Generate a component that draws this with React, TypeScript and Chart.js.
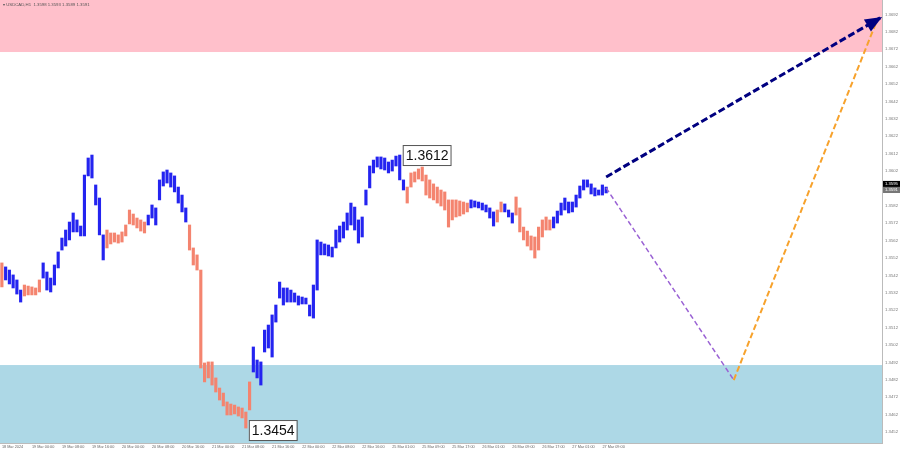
import React, { useEffect, useRef } from 'react';
import { Chart, registerables } from 'chart.js';
Chart.register(...registerables);

const chartTitle = '\u25BE USDCAD,H1  1.3598 1.3593 1.3589 1.3591';

const tickLabels = [
  '18 Mar 2024', '19 Mar 00:00', '19 Mar 08:00', '19 Mar 16:00', '20 Mar 00:00', '20 Mar 08:00',
  '20 Mar 16:00', '21 Mar 00:00', '21 Mar 08:00', '21 Mar 16:00', '22 Mar 00:00', '22 Mar 08:00',
  '22 Mar 16:00', '25 Mar 01:00', '25 Mar 09:00', '25 Mar 17:00', '26 Mar 01:00', '26 Mar 09:00',
  '26 Mar 17:00', '27 Mar 01:00', '27 Mar 09:00',
];
const barsPerTick = 8;
const totalSlots = 235;

const barHigh = [
  1.35492, 1.35469, 1.35451, 1.35423, 1.35394, 1.35336, 1.35365, 1.35359, 1.35354, 1.35348,
  1.35394, 1.35492, 1.35440, 1.35405, 1.35480, 1.35555, 1.35635, 1.35681, 1.35727, 1.35779,
  1.35739, 1.35704, 1.35997, 1.36095, 1.36112, 1.35940, 1.35865, 1.35653, 1.35681, 1.35664,
  1.35664, 1.35653, 1.35670, 1.35710, 1.35796, 1.35773, 1.35750, 1.35739, 1.35727, 1.35767,
  1.35825, 1.35808, 1.35969, 1.36015, 1.36026, 1.36009, 1.35992, 1.35928, 1.35882, 1.35808,
  1.35710, 1.35578, 1.35538, 1.35451, 1.34917, 1.34923, 1.34923, 1.34831, 1.34773, 1.34744,
  1.34693, 1.34681, 1.34675, 1.34664, 1.34658, 1.34635, 1.34808, 1.35009, 1.34934, 1.34923,
  1.35106, 1.35135, 1.35193, 1.35250, 1.35382, 1.35348, 1.35348, 1.35336, 1.35319, 1.35302,
  1.35296, 1.35290, 1.35250, 1.35365, 1.35624, 1.35612, 1.35601, 1.35595, 1.35583, 1.35681,
  1.35704, 1.35727, 1.35779, 1.35836, 1.35813, 1.35739, 1.35756, 1.35911, 1.36049, 1.36083,
  1.36101, 1.36101, 1.36095, 1.36072, 1.36083, 1.36106, 1.36112, 1.35969, 1.35928, 1.36009,
  1.36015, 1.36032, 1.36043, 1.35997, 1.35969, 1.35946, 1.35928, 1.35911, 1.35900, 1.35854,
  1.35854, 1.35854, 1.35848, 1.35842, 1.35836, 1.35854, 1.35848, 1.35842, 1.35836, 1.35825,
  1.35808, 1.35785, 1.35796, 1.35842, 1.35831, 1.35796, 1.35779, 1.35871, 1.35808, 1.35698,
  1.35675, 1.35647, 1.35641, 1.35698, 1.35739, 1.35756, 1.35739, 1.35756, 1.35790, 1.35836,
  1.35865, 1.35842, 1.35842, 1.35882, 1.35934, 1.35969, 1.35969, 1.35946, 1.35923, 1.35911,
  1.35940, 1.35928,
];

const barLow = [
  1.35354, 1.35394, 1.35371, 1.35348, 1.35313, 1.35267, 1.35302, 1.35308, 1.35308, 1.35308,
  1.35325, 1.35405, 1.35336, 1.35325, 1.35365, 1.35463, 1.35566, 1.35589, 1.35624, 1.35670,
  1.35670, 1.35647, 1.35647, 1.35992, 1.35980, 1.35825, 1.35653, 1.35509, 1.35578, 1.35601,
  1.35612, 1.35606, 1.35612, 1.35647, 1.35716, 1.35710, 1.35693, 1.35675, 1.35664, 1.35710,
  1.35750, 1.35710, 1.35854, 1.35934, 1.35951, 1.35928, 1.35900, 1.35836, 1.35785, 1.35727,
  1.35566, 1.35480, 1.35451, 1.34888, 1.34808, 1.34831, 1.34790, 1.34750, 1.34704, 1.34670,
  1.34618, 1.34618, 1.34624, 1.34612, 1.34601, 1.34543, 1.34647, 1.34865, 1.34831, 1.34790,
  1.34980, 1.35003, 1.34951, 1.35152, 1.35290, 1.35250, 1.35267, 1.35267, 1.35267, 1.35250,
  1.35256, 1.35256, 1.35187, 1.35175, 1.35336, 1.35538, 1.35538, 1.35532, 1.35526, 1.35578,
  1.35612, 1.35635, 1.35681, 1.35710, 1.35681, 1.35606, 1.35641, 1.35825, 1.35923, 1.36009,
  1.36043, 1.36032, 1.36026, 1.36009, 1.36020, 1.36049, 1.35969, 1.35911, 1.35836, 1.35928,
  1.35957, 1.35974, 1.35963, 1.35882, 1.35865, 1.35854, 1.35836, 1.35819, 1.35796, 1.35698,
  1.35739, 1.35756, 1.35762, 1.35773, 1.35785, 1.35808, 1.35813, 1.35808, 1.35796, 1.35785,
  1.35750, 1.35704, 1.35727, 1.35785, 1.35785, 1.35756, 1.35721, 1.35767, 1.35670, 1.35624,
  1.35589, 1.35566, 1.35520, 1.35566, 1.35641, 1.35681, 1.35681, 1.35693, 1.35721, 1.35767,
  1.35796, 1.35779, 1.35785, 1.35813, 1.35865, 1.35911, 1.35928, 1.35888, 1.35877, 1.35882,
  1.35882, 1.35894,
];

// bar index ranges drawn in the "down wave" colour
const downSegments = [[0, 0], [6, 10], [28, 38], [50, 66], [108, 124], [132, 133], [137, 146]];

const priceTicks = [
  1.3452, 1.3462, 1.3472, 1.3482, 1.3492, 1.3502, 1.3512, 1.3522, 1.3532, 1.3542, 1.3552, 1.3562,
  1.3572, 1.3582, 1.3592, 1.3602, 1.3612, 1.3622, 1.3632, 1.3642, 1.3652, 1.3662, 1.3672, 1.3682, 1.3692,
];
const yMin = 1.34457;
const yMax = 1.37003;

const resistanceZone = [1.36704, 1.37003];
const supportZone = [1.34457, 1.34905];

const mainWaveX = [161, 234];
const mainWaveY = [1.35986, 1.369];
const altDownX = [161, 195];
const altDownY = [1.35923, 1.34819];
const altUpX = [195, 233];
const altUpY = [1.34819, 1.36877];

const extremeIdx = [106, 65];
const extremePrice = [1.36112, 1.34543];
const extremeText = ['1.3612', '1.3454'];

const bidPrice = 1.35946;
const bidText = '1.3595';
const lastPrice = 1.35911;
const lastText = '1.3591';

const UP_COLOR = '#2424f0';
const DOWN_COLOR = '#f4846f';

function lineData(xs: number[], ys: number[]) {
  const arr: (number | null)[] = new Array(totalSlots).fill(null);
  xs.forEach((x, k) => { arr[x] = ys[k]; });
  return arr;
}

export default function App() {
  const ref = useRef<HTMLCanvasElement | null>(null);

  useEffect(() => {
    document.body.style.margin = '0';
    const canvas = ref.current;
    if (!canvas) return;

    const labels: string[] = new Array(totalSlots).fill('');
    tickLabels.forEach((t, k) => { labels[k * barsPerTick] = t; });

    const colors = barHigh.map((_, i) =>
      downSegments.some(([a, b]) => i >= a && i <= b) ? DOWN_COLOR : UP_COLOR);

    const zonesPlugin = {
      id: 'zones',
      beforeDatasetsDraw(chart: any) {
        const { ctx, chartArea, scales } = chart;
        const y = scales.y;
        ctx.save();
        ctx.fillStyle = '#ffc0cb';
        const r1 = y.getPixelForValue(resistanceZone[1]);
        const r0 = y.getPixelForValue(resistanceZone[0]);
        ctx.fillRect(chartArea.left, r1, chartArea.right - chartArea.left, r0 - r1);
        ctx.fillStyle = '#add8e6';
        const s1 = y.getPixelForValue(supportZone[1]);
        const s0 = y.getPixelForValue(supportZone[0]);
        ctx.fillRect(chartArea.left, s1, chartArea.right - chartArea.left, s0 - s1);
        ctx.restore();
      },
      afterDraw(chart: any) {
        const { ctx, chartArea, scales } = chart;
        const x = scales.x;
        const y = scales.y;
        ctx.save();
        // title
        ctx.font = '4.3px "Liberation Sans", Arial, sans-serif';
        ctx.fillStyle = '#555';
        ctx.textBaseline = 'middle';
        ctx.textAlign = 'left';
        ctx.fillText(chartTitle, 3, 5);

        // arrowhead on main wave
        const x0 = x.getPixelForValue(mainWaveX[0]);
        const y0 = y.getPixelForValue(mainWaveY[0]);
        const x1 = x.getPixelForValue(mainWaveX[1]) + 2;
        const y1 = y.getPixelForValue(mainWaveY[1]) - 1;
        const ang = Math.atan2(y1 - y0, x1 - x0);
        const L = 17, W = 7;
        ctx.fillStyle = '#000080';
        ctx.beginPath();
        ctx.moveTo(x1, y1);
        ctx.lineTo(x1 - L * Math.cos(ang) + W * Math.sin(ang), y1 - L * Math.sin(ang) - W * Math.cos(ang));
        ctx.lineTo(x1 - L * Math.cos(ang) - W * Math.sin(ang), y1 - L * Math.sin(ang) + W * Math.cos(ang));
        ctx.closePath();
        ctx.fill();

        // extreme labels
        ctx.font = '14px "Liberation Sans", Arial, sans-serif';
        extremeIdx.forEach((idx, k) => {
          const px = x.getPixelForValue(idx) + 3;
          const py = y.getPixelForValue(extremePrice[k]) + (k === 1 ? 2 : 0);
          const w = ctx.measureText(extremeText[k]).width + 5;
          const h = 20;
          ctx.fillStyle = '#ffffff';
          ctx.fillRect(px, py - h / 2, w, h);
          ctx.strokeStyle = '#555';
          ctx.lineWidth = 1;
          ctx.strokeRect(px + 0.5, py - h / 2 + 0.5, w, h);
          ctx.fillStyle = '#111';
          ctx.textAlign = 'left';
          ctx.textBaseline = 'middle';
          ctx.fillText(extremeText[k], px + 3, py + 1);
        });

        // price boxes on axis
        const ax = chartArea.right + 1;
        ctx.font = '4.2px "Liberation Sans", Arial, sans-serif';
        const by = y.getPixelForValue(bidPrice);
        ctx.fillStyle = '#000';
        ctx.fillRect(ax, by - 3, 18, 6);
        ctx.fillStyle = '#fff';
        ctx.fillText(bidText, ax + 2, by);
        const ly = y.getPixelForValue(lastPrice);
        ctx.fillStyle = '#777';
        ctx.fillRect(ax, ly - 3, 18, 6);
        ctx.fillStyle = '#fff';
        ctx.fillText(lastText, ax + 2, ly);
        ctx.restore();
      },
    };

    const chart = new Chart(canvas, {
      type: 'bar',
      data: {
        labels,
        datasets: [
          {
            type: 'bar',
            data: barLow.map((l, i) => [l, barHigh[i]]) as any,
            backgroundColor: colors,
            borderWidth: 0,
            barThickness: 2.5,
            order: 5,
          } as any,
          {
            type: 'line',
            data: lineData(altDownX, altDownY),
            borderColor: '#9a62d4',
            borderWidth: 1.5,
            borderDash: [5, 3],
            pointRadius: 0,
            spanGaps: true,
            order: 3,
          } as any,
          {
            type: 'line',
            data: lineData(altUpX, altUpY),
            borderColor: '#f7a22c',
            borderWidth: 2,
            borderDash: [6, 3],
            pointRadius: 0,
            spanGaps: true,
            order: 2,
          } as any,
          {
            type: 'line',
            data: lineData(mainWaveX, mainWaveY),
            borderColor: '#000080',
            borderWidth: 3,
            borderDash: [7, 3],
            pointRadius: 0,
            spanGaps: true,
            order: 1,
          } as any,
        ],
      },
      options: {
        animation: false,
        responsive: true,
        maintainAspectRatio: false,
        layout: { padding: 0 },
        plugins: { legend: { display: false }, tooltip: { enabled: false } },
        scales: {
          x: {
            grid: { display: false, drawTicks: false },
            border: { display: true, color: '#bbb' },
            afterFit: (s: any) => { s.height = 10; s.paddingLeft = 0; s.paddingRight = 0; },
            ticks: {
              autoSkip: false,
              maxRotation: 0,
              minRotation: 0,
              align: 'start',
              padding: 2,
              color: '#666',
              font: { size: 3.8, family: '"Liberation Sans", Arial, sans-serif' },
              callback: (_v: any, i: number) => labels[i],
            },
          },
          y: {
            position: 'right',
            min: yMin,
            max: yMax,
            grid: { display: false, drawTicks: false },
            border: { display: true, color: '#bbb' },
            afterFit: (s: any) => { s.width = 18; s.paddingTop = 0; s.paddingBottom = 0; },
            afterBuildTicks: (s: any) => { s.ticks = priceTicks.map((v) => ({ value: v })); },
            ticks: {
              padding: 3,
              color: '#777',
              font: { size: 4.3, family: '"Liberation Sans", Arial, sans-serif' },
              callback: (v: any) => Number(v).toFixed(4),
            },
          },
        },
      } as any,
      plugins: [zonesPlugin],
    });

    return () => chart.destroy();
  }, []);

  return (
    <div style={{ width: 900, height: 453, position: 'relative', background: '#fff' }}>
      <canvas ref={ref} />
    </div>
  );
}
